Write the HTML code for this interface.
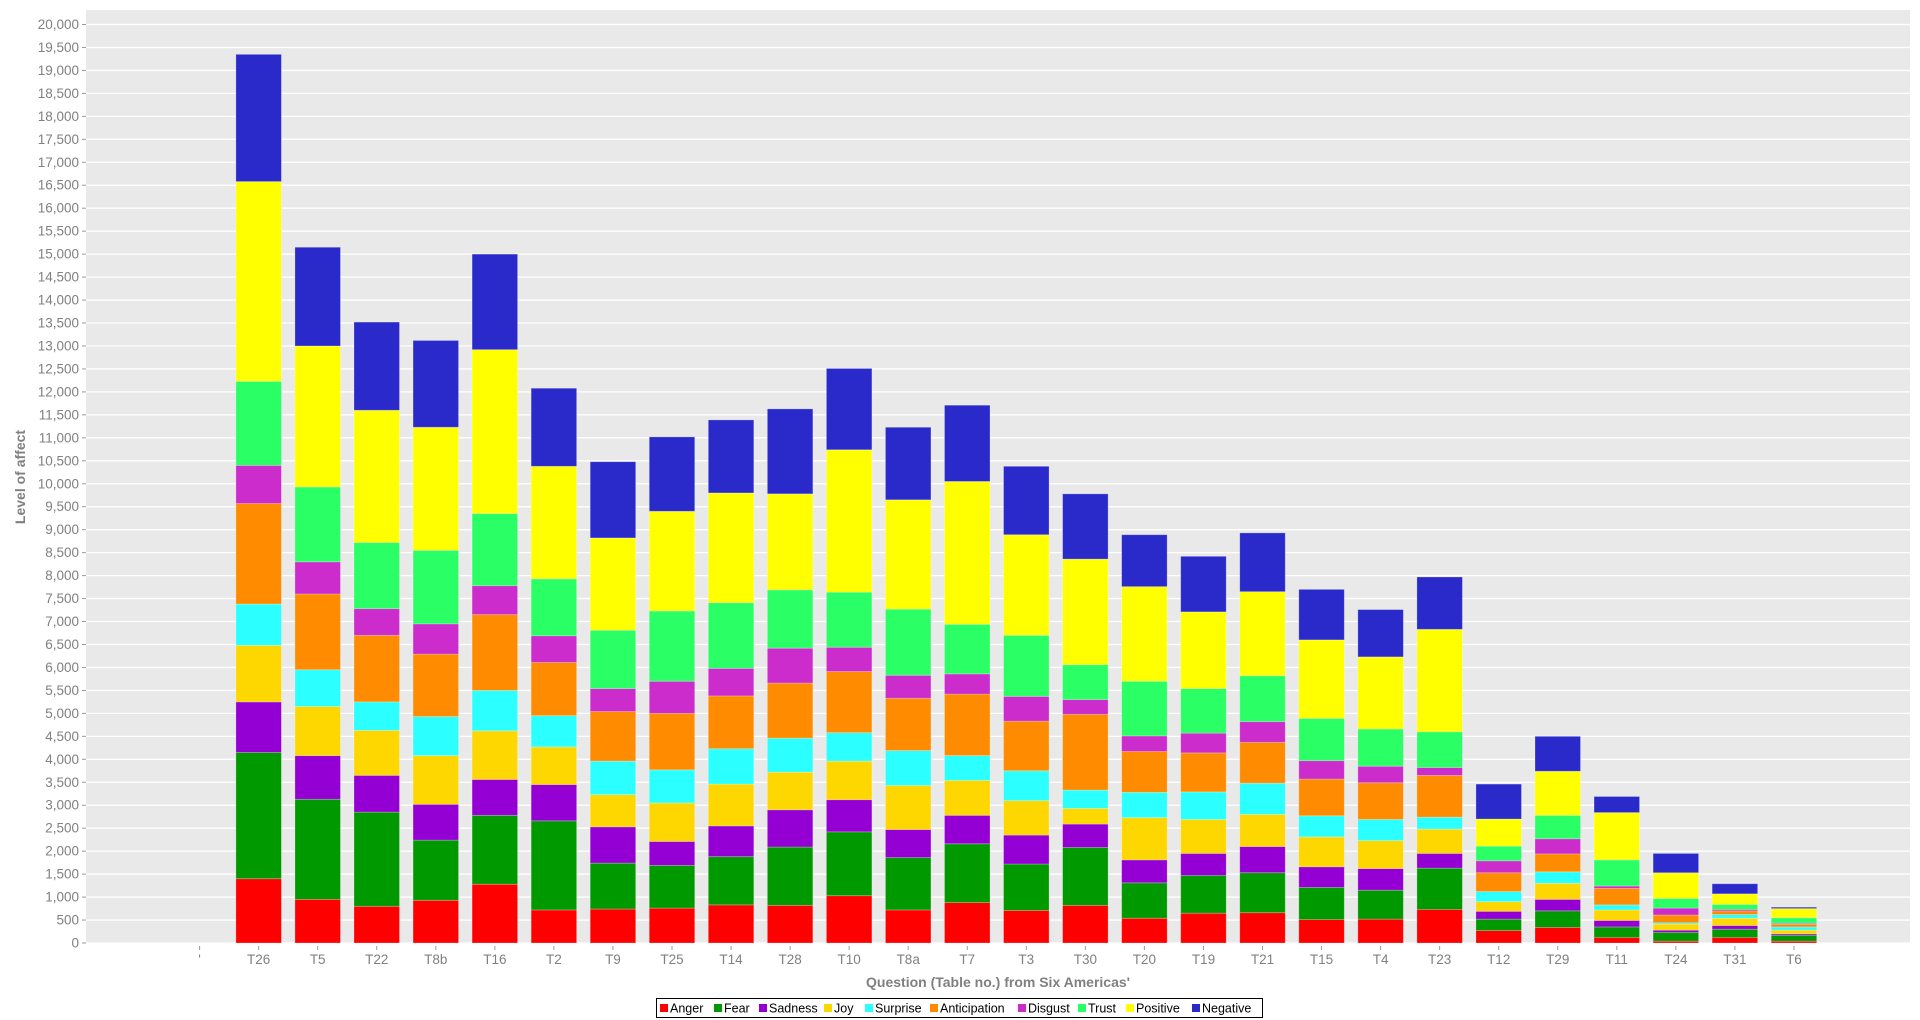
<!DOCTYPE html>
<html><head><meta charset="utf-8"><style>
html,body{margin:0;padding:0;background:#fff;}
svg{display:block;font-family:"Liberation Sans","DejaVu Sans",sans-serif;}
</style></head><body>
<svg id="chart" width="1920" height="1020" viewBox="0 0 1920 1020" xmlns="http://www.w3.org/2000/svg">
<rect x="86" y="10" width="1824" height="933" fill="#e9e9e9"/>
<g id="grid"></g><g id="yaxis"></g><g id="xaxis"></g><g id="bars"></g>
<text transform="translate(25,477) rotate(-90)" text-anchor="middle" font-size="14" font-weight="bold" fill="#808080">Level of affect</text>
<text x="998" y="987" text-anchor="middle" font-size="14" font-weight="bold" fill="#808080">Question (Table no.) from Six Americas'</text>
<g id="legend"></g>
</svg>
<script>
const categories=["'","T26","T5","T22","T8b","T16","T2","T9","T25","T14","T28","T10","T8a","T7","T3","T30","T20","T19","T21","T15","T4","T23","T12","T29","T11","T24","T31","T6"];
const seriesNames=["Anger","Fear","Sadness","Joy","Surprise","Anticipation","Disgust","Trust","Positive","Negative"];
const anger=[0,1400,950,800,930,1280,720,740,760,830,820,1030,720,880,710,820,540,650,660,510,520,730,270,340,120,40,120,40];
const fear=[0,2750,2180,2050,1310,1500,1940,1000,930,1050,1270,1390,1140,1280,1010,1260,770,820,870,700,630,900,250,360,230,190,180,130];
const sadness=[0,1100,950,800,780,780,790,790,520,670,810,700,610,620,630,510,500,480,570,450,470,320,170,250,140,50,80,30];
const joy=[0,1230,1070,980,1060,1060,820,700,840,910,820,840,960,760,750,340,920,740,700,650,610,530,210,350,230,130,160,80];
const surprise=[0,900,800,620,850,880,680,730,720,770,740,620,760,540,650,400,550,600,680,460,460,260,220,250,110,30,80,70];
const anticipation=[0,2190,1650,1450,1360,1650,1160,1080,1230,1150,1200,1330,1140,1340,1080,1650,890,850,890,800,800,910,410,390,360,170,80,60];
const disgust=[0,830,700,580,660,630,580,500,700,600,760,530,500,440,540,320,340,430,450,400,360,170,260,330,50,150,30,20];
const trust=[0,1830,1630,1440,1600,1570,1240,1270,1530,1430,1270,1200,1440,1080,1330,760,1190,970,1000,920,810,780,320,510,570,210,110,120];
const positive=[0,4350,3070,2880,2680,3570,2450,2010,2170,2390,2090,3100,2380,3110,2190,2300,2060,1670,1830,1710,1570,2230,590,960,1030,560,230,200];
const negative=[0,2770,2150,1920,1890,2080,1700,1660,1620,1590,1850,1770,1580,1660,1490,1420,1130,1210,1280,1100,1030,1140,760,760,350,420,220,30];
const yTicks=[0,500,1000,1500,2000,2500,3000,3500,4000,4500,5000,5500,6000,6500,7000,7500,8000,8500,9000,9500,10000,10500,11000,11500,12000,12500,13000,13500,14000,14500,15000,15500,16000,16500,17000,17500,18000,18500,19000,19500,20000];

const series=[anger,fear,sadness,joy,surprise,anticipation,disgust,trust,positive,negative];
const colors=["#ff0000","#009900","#9400d3","#ffd700","#2bffff","#ff8c00","#cc2ccc","#2bff66","#ffff00","#2a2acb"];
const NS="http://www.w3.org/2000/svg";
const y0=943,yTop=24.5,yMax=20000;
function yPos(v){return y0-(v/yMax)*(y0-yTop);}
function xPos(i){return 199.6+i*59.05;}
const bw=45.5;
function mk(tag,attrs,parent){const e=document.createElementNS(NS,tag);for(const k in attrs)e.setAttribute(k,attrs[k]);parent.appendChild(e);return e;}
const grid=document.getElementById('grid'),ya=document.getElementById('yaxis'),xa=document.getElementById('xaxis'),bars=document.getElementById('bars');
yTicks.forEach(t=>{
  const y=yPos(t);
  const g=mk('line',{x1:86,x2:1910,y1:y,y2:y,stroke:'#ffffff','stroke-width':1.3},grid);
  
  
  mk('line',{x1:82,x2:86,y1:y,y2:y,stroke:'#999'},ya);
  const tx=mk('text',{x:79,y:y+4.5,'text-anchor':'end','font-size':13.5,fill:'#808080'},ya);
  
  
  tx.textContent=t.toLocaleString('en-US');
});
categories.forEach((c,i)=>{
  const x=xPos(i);
  mk('line',{x1:x,x2:x,y1:946,y2:950,stroke:'#999'},xa);
  const tx=mk('text',{x:x,y:964,'text-anchor':'middle','font-size':13.5,fill:'#808080'},xa);
  
  
  tx.textContent=c;
  let cum=0;
  series.forEach((s,k)=>{
    const v=s[i]; if(!v)return;
    const yt=yPos(cum+v),yb=yPos(cum);
    const r=mk('rect',{x:x-bw/2,y:yt,width:bw,height:yb-yt,fill:colors[k],stroke:'rgba(255,255,255,0.3)','stroke-width':0.8},bars);
    
    
    cum+=v;
  });
});
// legend
const lg=document.getElementById('legend');
mk('rect',{x:656.5,y:998.5,width:606,height:19,fill:'#fff',stroke:'#000','stroke-width':1},lg);
const widths=[54,45,65,41,65,88,60,48,66,68];
let lx=660;
seriesNames.forEach((n,k)=>{
  const g=mk('g',{},lg);
  
  
  mk('rect',{x:lx,y:1004,width:8,height:8,fill:colors[k]},g);
  const t=mk('text',{x:lx+10,y:1012.5,'font-size':12.5,fill:'#000'},g);
  t.textContent=n;
  lx+=widths[k];
});
</script>
</body></html>
